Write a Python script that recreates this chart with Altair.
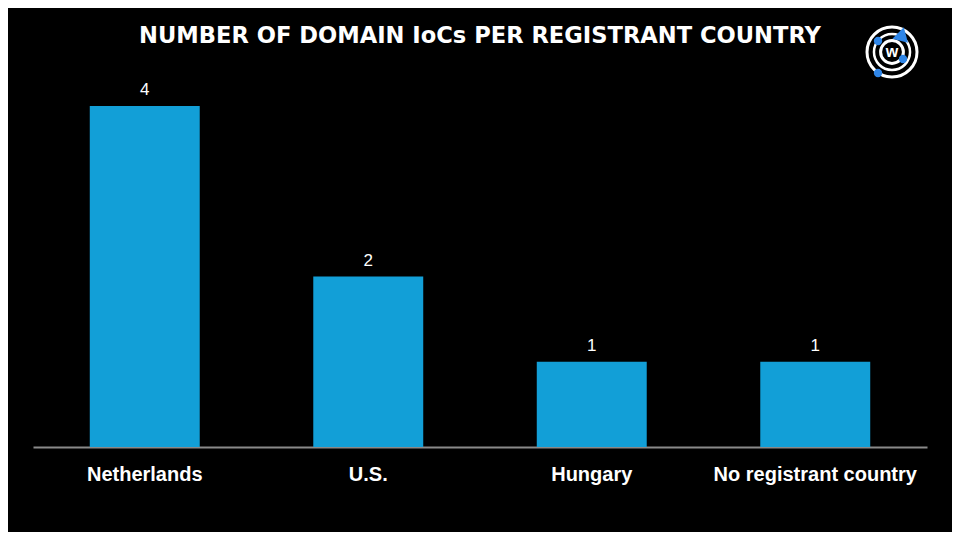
import altair as alt
import pandas as pd

categories = ["Netherlands", "U.S.", "Hungary", "No registrant country"]
counts = [4, 2, 1, 1]
title_text = "NUMBER OF DOMAIN IoCs PER REGISTRANT COUNTRY"

df = pd.DataFrame({"country": categories, "count": counts})

W, H = 894, 439
FONT = "Liberation Sans"

x_enc = alt.X("country:N", sort=categories,
              scale=alt.Scale(paddingInner=0.508, paddingOuter=0.254),
              axis=alt.Axis(title=None, labelAngle=0, labelColor="white",
                            labelFont=FONT, labelFontWeight="bold", labelFontSize=20,
                            labelPadding=17, labelLimit=0, ticks=False,
                            domainColor="#8a8a8a", domainWidth=2, grid=False))
y_enc = alt.Y("count:Q", scale=alt.Scale(domain=[0, 5.1496], nice=False, zero=True),
              axis=None)

bars = alt.Chart(df).mark_bar(color="#129fd7").encode(x=x_enc, y=y_enc)
labels = alt.Chart(df).mark_text(color="white", font=FONT, fontSize=17,
                                 baseline="bottom", dy=-7).encode(
    x=alt.X("country:N", sort=categories), y="count:Q", text="count:Q")

title = alt.Chart(pd.DataFrame({"t": [title_text]})).mark_text(
    color="white", font="DejaVu Sans", fontWeight="bold", fontSize=22.6,
    baseline="middle", align="center").encode(
    x=alt.value(447), y=alt.value(28), text="t:N")

# logo (decoration)
CX, CY = 859, 44
ring_outer = alt.Chart(pd.DataFrame({"a": [0]})).mark_point(
    shape="circle", filled=False, stroke="white", strokeWidth=3, size=2500, opacity=1).encode(
    x=alt.value(CX), y=alt.value(CY))
ring_mid = alt.Chart(pd.DataFrame({"a": [0]})).mark_point(
    shape="circle", filled=False, stroke="white", strokeWidth=2.5, size=1300, opacity=1).encode(
    x=alt.value(CX), y=alt.value(CY))
ring_inner = alt.Chart(pd.DataFrame({"a": [0]})).mark_point(
    shape="circle", filled=False, stroke="white", strokeWidth=3, size=520, opacity=1).encode(
    x=alt.value(CX), y=alt.value(CY))
logo_w = alt.Chart(pd.DataFrame({"t": ["w"]})).mark_text(
    color="white", font=FONT, fontWeight="bold", fontSize=16, baseline="middle").encode(
    x=alt.value(CX), y=alt.value(CY), text="t:N")
dots = alt.Chart(pd.DataFrame({"dx": [845, 870, 845], "dy": [33, 51, 65]})).mark_point(
    shape="circle", filled=True, color="#2f86e8", opacity=1, size=70).encode(
    x=alt.X("dx:Q", scale=None), y=alt.Y("dy:Q", scale=None))
tri = alt.Chart(pd.DataFrame({"a": [0]})).mark_point(
    shape="triangle-up", filled=True, color="#2f86e8", opacity=1, size=260, angle=15).encode(
    x=alt.value(869), y=alt.value(26))

chart = alt.layer(bars, labels, title, ring_outer, ring_mid, ring_inner, logo_w, dots, tri).properties(
    width=W, height=H,
    autosize=alt.AutoSizeParams(type="none"),
    padding={"left": 25, "top": 0, "right": 25, "bottom": 85},
    background="black",
    usermeta={"embedOptions": {"defaultStyle":
        "html, body { background-color: #000000 !important; }"}},
).configure_view(stroke=None)

chart.save("out.html", embed_options={"renderer": "svg", "actions": False})
